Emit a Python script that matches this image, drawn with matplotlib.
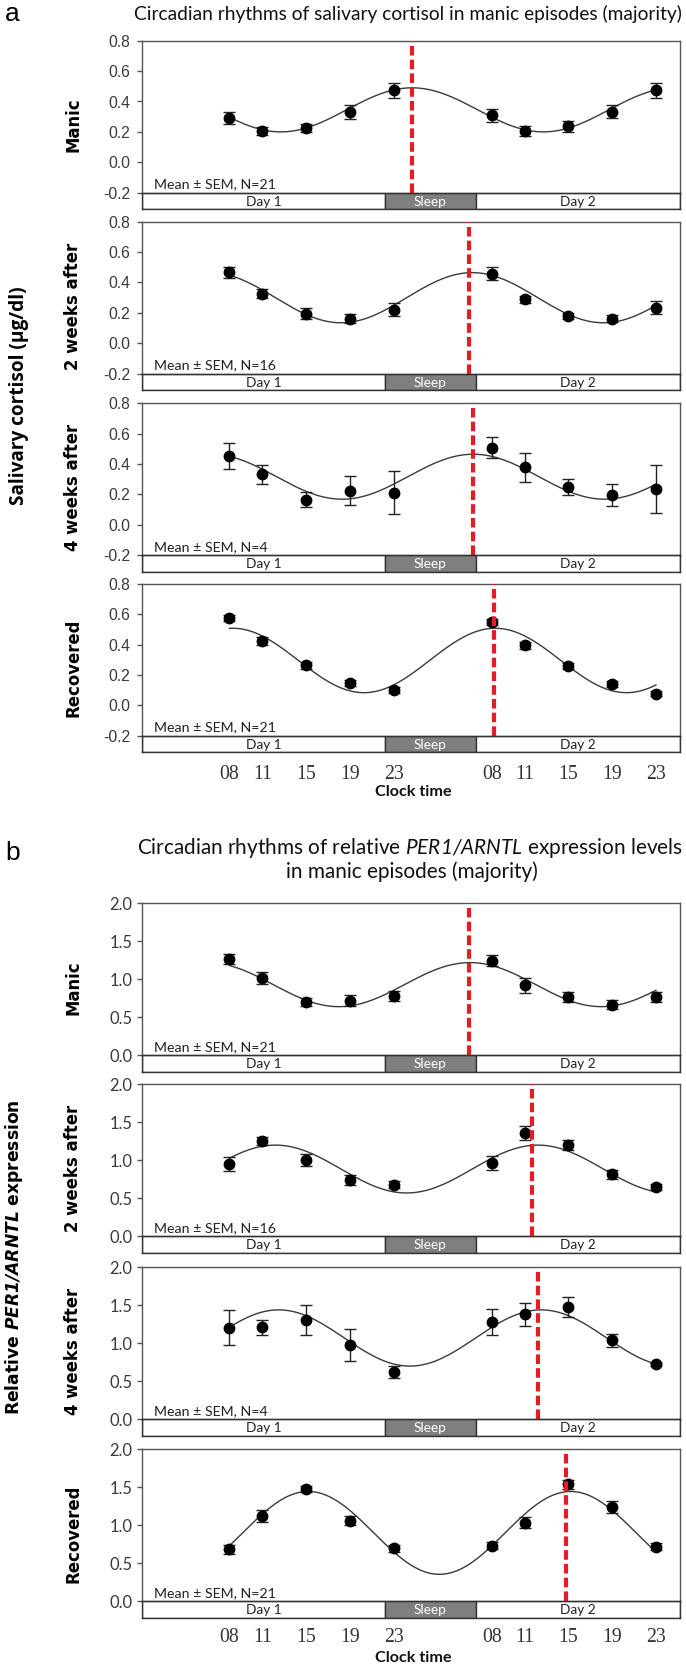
import numpy as np
import matplotlib
matplotlib.use('Agg')
import matplotlib.pyplot as plt

plt.rcParams['mathtext.fontset'] = 'custom'
plt.rcParams['mathtext.rm'] = 'Lato'
plt.rcParams['mathtext.sf'] = 'Lato:italic'
plt.rcParams['mathtext.tt'] = 'DejaVu Sans:italic:bold'
plt.rcParams['axes.unicode_minus'] = False

# ---------------- data ----------------
sample_hours = [8, 11, 15, 19, 23, 32, 35, 39, 43, 47]
tick_labels = ['08', '11', '15', '19', '23', '08', '11', '15', '19', '23']
row_labels = ['Manic', '2 weeks after', '4 weeks after', 'Recovered']
n_subjects = [21, 16, 4, 21]

# strip segments (hours)
seg_names = ['Day 1', 'Sleep', 'Day 2']
seg_start = [0.0, 22.2, 30.5]
seg_end = [22.2, 30.5, 49.2]

# Salivary cortisol (ug/dl)
cort_manic = [0.292, 0.204, 0.226, 0.330, 0.473, 0.308, 0.204, 0.237, 0.334, 0.473]
cort_manic_sem = [0.042, 0.027, 0.029, 0.047, 0.050, 0.040, 0.032, 0.037, 0.045, 0.050]
cort_2w = [0.466, 0.327, 0.196, 0.163, 0.222, 0.459, 0.290, 0.180, 0.163, 0.235]
cort_2w_sem = [0.037, 0.030, 0.033, 0.030, 0.040, 0.045, 0.022, 0.022, 0.025, 0.042]
cort_4w = [0.453, 0.332, 0.167, 0.226, 0.213, 0.508, 0.378, 0.251, 0.196, 0.235]
cort_4w_sem = [0.085, 0.063, 0.047, 0.098, 0.143, 0.069, 0.095, 0.053, 0.071, 0.160]
cort_rec = [0.574, 0.422, 0.263, 0.149, 0.099, 0.548, 0.395, 0.258, 0.138, 0.077]
cort_rec_sem = [0.020, 0.028, 0.025, 0.020, 0.020, 0.020, 0.022, 0.020, 0.020, 0.015]
cort_mesor = [0.345, 0.300, 0.317, 0.295]
cort_amp = [0.145, 0.165, 0.148, 0.212]
cort_acro = [0.7, 6.2, 6.3, 8.3]
cort_peak_line = [24.7, 29.9, 30.3, 32.2]

# Relative PER1/ARNTL expression
per_manic = [1.265, 1.015, 0.700, 0.718, 0.775, 1.247, 0.919, 0.761, 0.665, 0.766]
per_manic_sem = [0.070, 0.080, 0.050, 0.075, 0.065, 0.075, 0.096, 0.066, 0.057, 0.061]
per_2w = [0.952, 1.258, 1.004, 0.742, 0.677, 0.961, 1.358, 1.205, 0.817, 0.651]
per_2w_sem = [0.090, 0.055, 0.080, 0.070, 0.045, 0.090, 0.087, 0.066, 0.060, 0.040]
per_4w = [1.203, 1.212, 1.304, 0.972, 0.626, 1.278, 1.379, 1.479, 1.037, 0.722]
per_4w_sem = [0.230, 0.100, 0.195, 0.210, 0.077, 0.170, 0.150, 0.134, 0.090, 0.020]
per_rec = [0.684, 1.123, 1.478, 1.061, 0.697, 0.732, 1.035, 1.540, 1.246, 0.719]
per_rec_sem = [0.060, 0.080, 0.040, 0.060, 0.050, 0.050, 0.070, 0.060, 0.080, 0.050]
per_mesor = [0.93, 0.885, 1.07, 0.90]
per_amp = [0.29, 0.315, 0.37, 0.545]
per_acro = [6.0, 12.2, 12.5, 15.2]
per_peak_line = [29.9, 35.7, 36.2, 38.8]

cort_ticks = [-0.2, 0.0, 0.2, 0.4, 0.6, 0.8]
per_ticks = [0.0, 0.5, 1.0, 1.5, 2.0]

TITLE_A = 'Circadian rhythms of salivary cortisol in manic episodes (majority)'
TITLE_B1 = r'Circadian rhythms of relative $\mathsf{PER1/ARNTL}$ expression levels'
TITLE_B2 = 'in manic episodes (majority)'
YLAB_A = 'Salivary cortisol (\u03bcg/dl)'
YLAB_B = r'Relative $\mathtt{PER1/ARNTL}$ expression'

# ---------------- layout ----------------
W, H = 686, 1667
fig = plt.figure(figsize=(W / 100, H / 100), dpi=100)
renderer = fig.canvas.get_renderer()
AX_L, AX_W = 142, 538
STRIP_H = 16.5
XMAX = 49.2


def fit_size(s, family, target, weight='normal', dim='w', base=12.0):
    rot = 90 if dim == 'h' else 0
    t = fig.text(0, 0, s, fontfamily=family, fontweight=weight, fontsize=base, rotation=rot)
    bb = t.get_window_extent(renderer)
    t.remove()
    cur = bb.height if dim == 'h' else bb.width
    return base * target / cur


title_a_size = fit_size(TITLE_A, 'Lato', 544)
title_b_size = 0.5 * (fit_size(TITLE_B1, 'Lato', 532) + fit_size(TITLE_B2, 'Lato', 256))
mean_size = fit_size('Mean \u00b1 SEM, N=21', 'Lato', 122)
strip_size = 0.5 * (fit_size('Day 1', 'Lato', 33) + fit_size('Sleep', 'Lato', 35))
clock_size = fit_size('Clock time', 'Lato', 76, weight='bold')
xtick_size = fit_size('08', 'Liberation Serif', 19.7)
ytick_a_size = fit_size('0.8', 'Liberation Sans', 21.7)
ytick_b_size = fit_size('2.0', 'Lato', 23)
row_size = 0.5 * (fit_size('Manic', 'DejaVu Sans', 56, 'bold', 'h') +
                  fit_size('Recovered', 'DejaVu Sans', 96, 'bold', 'h'))
ylab_a_size = fit_size(YLAB_A, 'Open Sans', 218, 'bold', 'h')
ylab_b_size = fit_size(YLAB_B, 'DejaVu Sans', 316, 'bold', 'h')


def add_px_axes(left, top, width, height):
    return fig.add_axes([left / W, 1 - (top + height) / H, width / W, height / H])


def fx(x):
    return x / W


def fy(y):
    return 1 - y / H


def draw_panel(top, height, means, sems, mesor, amp, acro, peak, ylim, yticks,
               tick_font, tick_size, tick_pad, n, row_label, bottom, xt_pad):
    ax = add_px_axes(AX_L, top, AX_W, height)
    ax.set_xlim(0, XMAX)
    ax.set_ylim(*ylim)
    for s in ax.spines.values():
        s.set_color('#555555')
        s.set_linewidth(1.0)
    ax.set_xticks([])
    ax.set_yticks(yticks)
    ax.set_yticklabels(['%.1f' % v for v in yticks], fontfamily=tick_font,
                       fontsize=tick_size, color='#3a3a3a')
    ax.tick_params(axis='y', direction='out', length=3.6, width=1, color='#555555',
                   pad=tick_pad)
    t = np.linspace(sample_hours[0], sample_hours[-1], 400)
    curve = mesor + amp * np.cos(2 * np.pi * (t - acro) / 24.0)
    ax.plot(t, curve, color='#3a3a3a', lw=1.0, zorder=2)
    ax.errorbar(sample_hours, means, yerr=sems, fmt='o', color='black', ms=7.5,
                ecolor='#222222', elinewidth=1.0, capsize=4, capthick=1.0, zorder=3)
    ax.axvline(peak, color='#e41c23', lw=3.0, dashes=(2.3, 1.0), zorder=4)
    ax.text(0.022, 0.03, 'Mean \u00b1 SEM, N=%d' % n, transform=ax.transAxes,
            fontfamily='Lato', fontsize=mean_size, color='#222222', va='baseline',
            ha='left')

    # strip
    sx = add_px_axes(AX_L, top + height, AX_W, STRIP_H)
    sx.set_xlim(0, XMAX)
    sx.set_ylim(0, 1)
    sx.set_yticks([])
    for s in sx.spines.values():
        s.set_color('#333333')
        s.set_linewidth(1.0)
    for name, a, b in zip(seg_names, seg_start, seg_end):
        fc = '#7f7f7f' if name == 'Sleep' else 'white'
        tc = 'white' if name == 'Sleep' else '#222222'
        sx.axvspan(a, b, facecolor=fc, edgecolor='#333333', lw=1.0)
        sx.text((a + b) / 2, 0.45, name, ha='center', va='center', fontfamily='Lato',
                fontsize=strip_size, color=tc)
    if bottom:
        sx.set_xticks(sample_hours)
        sx.set_xticklabels(tick_labels, fontfamily='Liberation Serif',
                           fontsize=xtick_size, color='#333333')
        sx.tick_params(axis='x', length=0, pad=xt_pad)
    else:
        sx.set_xticks([])
    # row label
    fig.text(fx(73), fy(top + (height + STRIP_H) / 2), row_label, rotation=90,
             ha='center', va='center', fontfamily='DejaVu Sans', fontweight='bold',
             fontsize=row_size, color='black')
    return ax


# panel a
a_tops = [40.7, 221.7, 403.3, 583.7]
a_h = 152
cort_means = [cort_manic, cort_2w, cort_4w, cort_rec]
cort_sems = [cort_manic_sem, cort_2w_sem, cort_4w_sem, cort_rec_sem]
for i in range(4):
    draw_panel(a_tops[i], a_h, cort_means[i], cort_sems[i], cort_mesor[i], cort_amp[i],
               cort_acro[i], cort_peak_line[i], (-0.2, 0.8), cort_ticks,
               'Liberation Sans', ytick_a_size, 4.8, n_subjects[i], row_labels[i],
               i == 3, 9)

# panel b
b_tops = [903.3, 1084.3, 1267.3, 1449.3]
b_h = 152
per_means = [per_manic, per_2w, per_4w, per_rec]
per_sems = [per_manic_sem, per_2w_sem, per_4w_sem, per_rec_sem]
for i in range(4):
    draw_panel(b_tops[i], b_h, per_means[i], per_sems[i], per_mesor[i], per_amp[i],
               per_acro[i], per_peak_line[i], (0.0, 2.0), per_ticks,
               'Lato', ytick_b_size, 3.3, n_subjects[i], row_labels[i], i == 3, 7.2)

# titles and labels
cx = fx(AX_L + AX_W / 2)
fig.text(fx(5), fy(14), 'a', fontfamily='Liberation Sans', fontsize=19, ha='left',
         va='center')
fig.text(fx(5), fy(853), 'b', fontfamily='Liberation Sans', fontsize=19, ha='left',
         va='center')
fig.text(fx(408), fy(13.5), TITLE_A, fontfamily='Lato', fontsize=title_a_size,
         ha='center', va='center', color='#111111')
fig.text(fx(410), fy(848), TITLE_B1, fontfamily='Lato', fontsize=title_b_size,
         ha='center', va='center', color='#111111')
fig.text(fx(412), fy(871.7), TITLE_B2, fontfamily='Lato', fontsize=title_b_size,
         ha='center', va='center', color='#111111')
fig.text(fx(19), fy(396), YLAB_A, rotation=90, ha='center', va='center',
         fontfamily='Open Sans', fontweight='bold', fontsize=ylab_a_size, color='black')
fig.text(fx(14), fy(1257), YLAB_B, rotation=90, ha='center', va='center',
         fontfamily='DejaVu Sans', fontweight='bold', fontsize=ylab_b_size, color='black')
fig.text(fx(413), fy(791.7), 'Clock time', fontfamily='Lato', fontweight='bold',
         fontsize=clock_size, ha='center', va='center', color='#111111')
fig.text(fx(413), fy(1658), 'Clock time', fontfamily='Lato', fontweight='bold',
         fontsize=clock_size, ha='center', va='center', color='#111111')

fig.savefig('out.png', dpi=100)
